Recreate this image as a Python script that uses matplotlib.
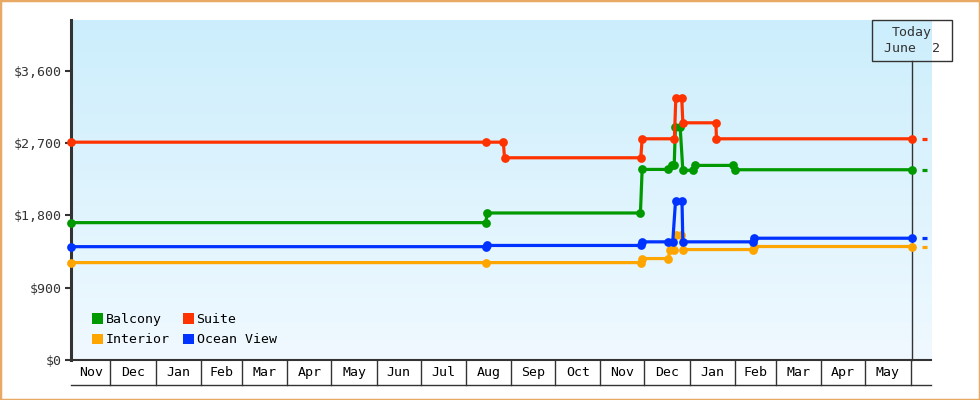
import numpy as np
import pandas as pd
import matplotlib
matplotlib.use("Agg")
import matplotlib.pyplot as plt
import matplotlib.dates as mdates
from matplotlib.patches import Patch, Rectangle
from matplotlib.ticker import FuncFormatter
import matplotlib.transforms as mtransforms

plt.rcParams['font.family'] = ['DejaVu Sans Mono', 'DejaVu Sans']

# ---- data ----
balcony_dates = ["2020-11-04", "2021-08-14 14:00", "2021-08-15 14:00", "2021-11-28 08:00",
                 "2021-11-29 12:00", "2021-12-17 12:00", "2021-12-19 18:00", "2021-12-21 10:00",
                 "2021-12-22 06:00", "2021-12-25 12:00", "2021-12-27 08:00", "2022-01-03 04:00",
                 "2022-01-04 16:00", "2022-01-30 22:00", "2022-01-31 18:00", "2022-06-02"]
balcony_vals = [1709, 1709, 1829, 1829, 2371, 2371, 2421, 2421,
                2896, 2896, 2360, 2360, 2421, 2421, 2367, 2367]

interior_dates = ["2020-11-04", "2021-08-15", "2021-11-28 14:00", "2021-11-29 08:00",
                  "2021-12-17 12:00", "2021-12-18 10:00", "2021-12-21 12:00", "2021-12-22 12:00",
                  "2021-12-26 08:00", "2021-12-27 08:00", "2022-02-13 04:00", "2022-02-13 20:00",
                  "2022-06-02"]
interior_vals = [1212, 1212, 1212, 1262, 1262, 1374, 1374, 1560,
                 1560, 1374, 1374, 1412, 1412]

suite_dates = ["2020-11-04", "2021-08-15", "2021-08-26 14:00", "2021-08-27 10:00",
               "2021-11-28 14:00", "2021-11-29 12:00", "2021-12-21 14:00", "2021-12-22 12:00",
               "2021-12-26 14:00", "2021-12-27 08:00", "2022-01-18 22:00", "2022-01-19 08:00",
               "2022-06-02"]
suite_vals = [2710, 2710, 2710, 2516, 2516, 2752, 2752, 3256,
              3256, 2951, 2951, 2752, 2752]

ocean_dates = ["2020-11-04", "2021-08-15", "2021-08-15 12:00", "2021-11-28 14:00",
               "2021-11-29 12:00", "2021-12-17 12:00", "2021-12-20 10:00", "2021-12-22 08:00",
               "2021-12-26 18:00", "2021-12-27 08:00", "2022-02-13 04:00", "2022-02-13 20:00",
               "2022-06-02"]
ocean_vals = [1410, 1410, 1425, 1425, 1470, 1470, 1470, 1978,
              1978, 1470, 1470, 1515, 1515]

series_names = ["Balcony", "Interior", "Suite", "Ocean View"]
series_colors = ["#009900", "#ffa500", "#ff3300", "#0033ff"]

today = pd.Timestamp("2022-06-02")
x_start = pd.Timestamp("2020-11-04")
x_end = pd.Timestamp("2022-06-15")
y_ticks = [0, 900, 1800, 2700, 3600]
y_max = 4230

ink = "#333333"

fig = plt.figure(figsize=(9.8, 4.0), dpi=100)
ax = fig.add_axes([71/980, 40/400, 860/980, 340/400])

# gradient background
grad = np.linspace(0, 1, 256).reshape(-1, 1)
top = np.array([0xcc, 0xee, 0xfc]) / 255
bot = np.array([0xf0, 0xf9, 0xff]) / 255
img = top[None, None, :] * (1 - grad[:, :, None]) + bot[None, None, :] * grad[:, :, None]
ax.imshow(img, extent=[0, 1, 0, 1], transform=ax.transAxes, aspect='auto', zorder=0)

all_dates = [balcony_dates, interior_dates, suite_dates, ocean_dates]
all_vals = [balcony_vals, interior_vals, suite_vals, ocean_vals]
for d, v, c in zip(all_dates, all_vals, series_colors):
    d = pd.to_datetime(d, format='mixed')
    ax.plot(d, v, color=c, lw=2.3, marker='o', ms=6.3, mew=0, zorder=3, clip_on=False)
    # short dash after today
    ax.plot([d[-1] + pd.Timedelta(days=6.7), d[-1] + pd.Timedelta(days=10)], [v[-1], v[-1]],
            color=c, lw=2.3, solid_capstyle='butt', zorder=3, clip_on=False)

ax.set_xlim(x_start, x_end)
ax.set_ylim(0, y_max)

ax.set_yticks(y_ticks)
ax.yaxis.set_major_formatter(FuncFormatter(lambda v, p: "${:,.0f}".format(v)))
ax.tick_params(axis='y', direction='out', length=4.5, width=1.5, color=ink,
               labelcolor=ink, labelsize=9.5, pad=2)
ax.set_xticks([])

for s in ['top', 'right']:
    ax.spines[s].set_visible(False)
ax.spines['left'].set_color(ink)
ax.spines['left'].set_linewidth(2.2)
ax.spines['bottom'].set_color(ink)
ax.spines['bottom'].set_linewidth(1.5)

# month boxes under the axis
trans = mtransforms.blended_transform_factory(ax.transData, ax.transAxes)
box_h = 25 / 340
months = pd.date_range("2020-11-01", "2022-07-01", freq="MS")
for m0, m1 in zip(months[:-1], months[1:]):
    if x_start < m0 < x_end:
        ax.plot([m0, m0], [0, -box_h], transform=trans, color=ink, lw=1, clip_on=False)
    a = max(m0, x_start)
    b = min(m1, x_end)
    if (b - a).days >= 20:
        ax.text(a + (b - a) / 2, -box_h / 2, m0.strftime("%b"), transform=trans,
                ha='center', va='center', fontsize=9.5, color='black')
ax.plot([0, 1], [-box_h, -box_h], transform=ax.transAxes, color=ink, lw=1, clip_on=False)

# today marker
ax.plot([today, today], [0, 1 - 41/340], transform=trans, color=ink, lw=1, zorder=2, clip_on=False)
xa = (mdates.date2num(today) - mdates.date2num(x_start)) / (mdates.date2num(x_end) - mdates.date2num(x_start))
ax.add_patch(Rectangle((xa - 40/860, 1 - 41/340), 80/860, 41/340, transform=ax.transAxes,
                       fill=False, edgecolor=ink, lw=1, clip_on=False, zorder=4))
ax.text(xa, 1 - 20.5/340, "Today\nJune  2", transform=ax.transAxes, ha='center', va='center',
        fontsize=9.5, color=ink, linespacing=1.3)

# legend
handles = [Patch(facecolor=c, edgecolor='none') for c in series_colors]
ax.legend(handles, series_names, ncol=2, loc='lower left', bbox_to_anchor=(0.024, 0.04),
          frameon=False, fontsize=9.5, handlelength=0.85, handleheight=0.85,
          handletextpad=0.2, columnspacing=1.0, labelspacing=0.55, borderpad=0,
          borderaxespad=0)

# orange frame round the image
fig.add_artist(Rectangle((0, 0), 1, 1, transform=fig.transFigure, fill=False,
                         edgecolor="#e8a964", lw=2.5))

fig.savefig("out.png", dpi=100)
